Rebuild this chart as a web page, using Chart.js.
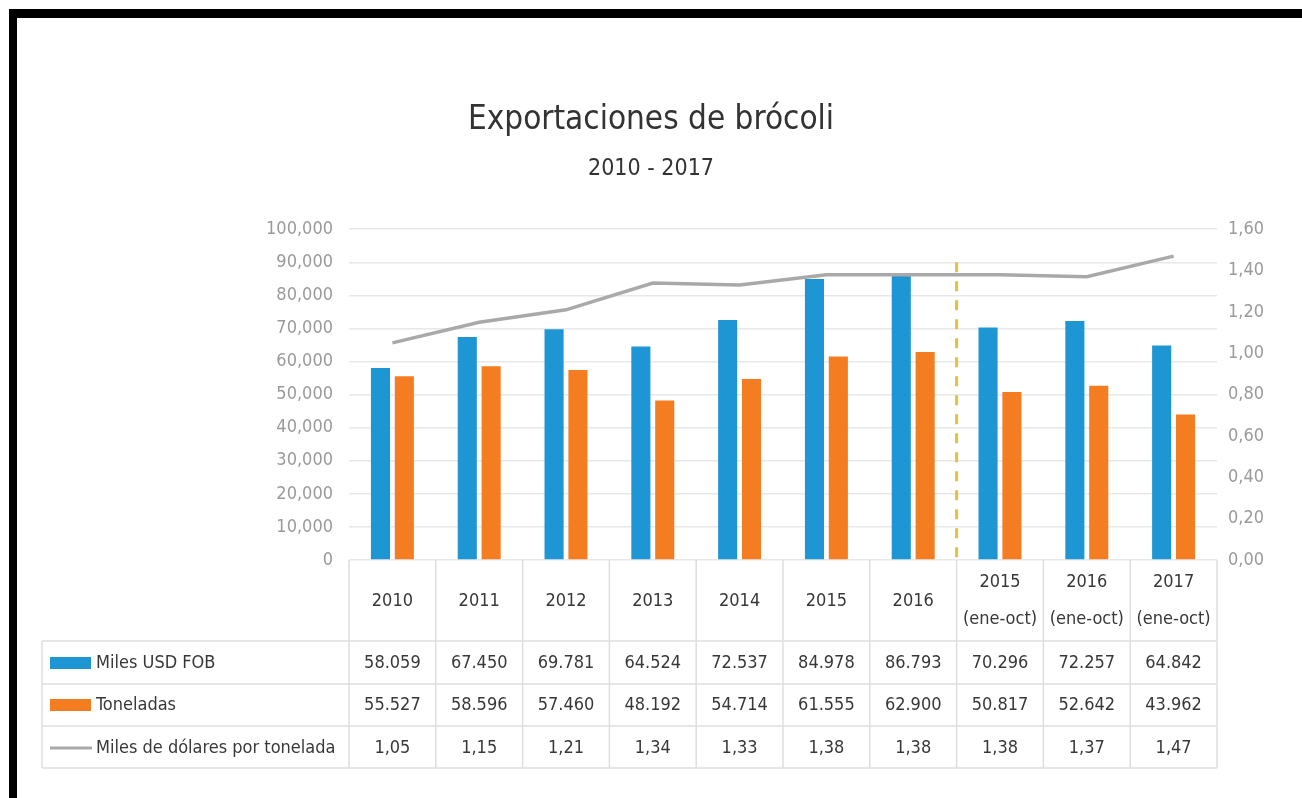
<!DOCTYPE html>
<html>
<head>
<meta charset="utf-8">
<script src="https://cdn.jsdelivr.net/npm/chart.js@4.4.1/dist/chart.umd.min.js"></script>
<style>
  html, body { margin: 0; padding: 0; background: #fff; }
  #wrap { position: relative; width: 1302px; height: 798px; overflow: hidden; }
  #topBar { position: absolute; left: 9px; top: 9px; width: 1293px; height: 9px; background: #000; }
  #leftBar { position: absolute; left: 9px; top: 9px; width: 8px; height: 789px; background: #000; }
  canvas { position: absolute; left: 0; top: 0; }
</style>
</head>
<body>
<div id="wrap">
  <canvas id="brocoliChart" width="1302" height="798"></canvas>
  <div id="topBar"></div>
  <div id="leftBar"></div>
</div>
<script>
const FONT = "'Liberation Sans Narrow', 'DejaVu Sans Condensed', 'Liberation Sans', sans-serif";

const categories = [
  ["2010"], ["2011"], ["2012"], ["2013"], ["2014"], ["2015"], ["2016"],
  ["2015", "(ene-oct)"], ["2016", "(ene-oct)"], ["2017", "(ene-oct)"]
];

const milesUsdFob = [58059, 67450, 69781, 64524, 72537, 84978, 86793, 70296, 72257, 64842];
const toneladas = [55527, 58596, 57460, 48192, 54714, 61555, 62900, 50817, 52642, 43962];
const milesPorTonelada = [1.05, 1.15, 1.21, 1.34, 1.33, 1.38, 1.38, 1.38, 1.37, 1.47];

const seriesNames = ["Miles USD FOB", "Toneladas", "Miles de dólares por tonelada"];
const leftMax = 100000;
const leftStep = 10000;
const rightMax = 1.6;
const rightStep = 0.2;
const splitAfterIndex = 6;

const blue = "#1e96d3";
const orange = "#f57d21";
const gray = "#a9a9a9";

function fmtThousands(v) {
  return String(v).replace(/\B(?=(\d{3})+(?!\d))/g, ".");
}
function fmtDecimal(v) {
  return v.toFixed(2).replace(".", ",");
}

// dashed separator between annual and ene-oct columns
const splitLinePlugin = {
  id: "splitLine",
  beforeDatasetsDraw(chart) {
    const x = chart.scales.x;
    const y = chart.scales.y;
    const px = (x.getPixelForValue(splitAfterIndex) + x.getPixelForValue(splitAfterIndex + 1)) / 2;
    const c = chart.ctx;
    c.save();
    c.strokeStyle = "#e4c13a";
    c.lineWidth = 3;
    c.setLineDash([10, 9]);
    c.beginPath();
    c.moveTo(px, y.getPixelForValue(90000));
    c.lineTo(px, y.getPixelForValue(0));
    c.stroke();
    c.restore();
  }
};

// excel-like data table under the plot
const dataTablePlugin = {
  id: "dataTable",
  afterDraw(chart) {
    const x = chart.scales.x;
    const area = chart.chartArea;
    const c = chart.ctx;
    const colW = (area.right - area.left) / categories.length;
    const tableLeft = 42;
    const rowLines = [641, 684, 726, 768];
    const headerMid = 601;
    const rowMids = [663, 705, 748];

    c.save();
    c.strokeStyle = "#dedede";
    c.lineWidth = 1.5;
    rowLines.forEach(ly => {
      c.beginPath();
      c.moveTo(tableLeft, ly);
      c.lineTo(area.right, ly);
      c.stroke();
    });
    for (let i = 0; i <= categories.length; i++) {
      const vx = area.left + i * colW;
      c.beginPath();
      c.moveTo(vx, area.bottom);
      c.lineTo(vx, rowLines[rowLines.length - 1]);
      c.stroke();
    }
    c.beginPath();
    c.moveTo(tableLeft, rowLines[0]);
    c.lineTo(tableLeft, rowLines[rowLines.length - 1]);
    c.stroke();

    c.fillStyle = "#383838";
    c.textAlign = "center";
    c.textBaseline = "middle";
    c.font = "18px " + FONT;
    categories.forEach((lab, i) => {
      const cx = x.getPixelForValue(i);
      if (lab.length === 1) {
        c.fillText(lab[0], cx, headerMid);
      } else {
        c.fillText(lab[0], cx, 582);
        c.fillText(lab[1], cx, 619);
      }
    });

    const rows = [
      milesUsdFob.map(fmtThousands),
      toneladas.map(fmtThousands),
      milesPorTonelada.map(fmtDecimal)
    ];
    rows.forEach((vals, r) => {
      vals.forEach((v, i) => c.fillText(v, x.getPixelForValue(i), rowMids[r]));
    });

    // legend keys
    c.textAlign = "left";
    c.fillStyle = blue;
    c.fillRect(50, rowMids[0] - 6, 41, 12);
    c.fillStyle = orange;
    c.fillRect(50, rowMids[1] - 6, 41, 12);
    c.strokeStyle = gray;
    c.lineWidth = 3;
    c.beginPath();
    c.moveTo(50, rowMids[2]);
    c.lineTo(92, rowMids[2]);
    c.stroke();
    c.fillStyle = "#383838";
    seriesNames.forEach((n, r) => c.fillText(n, 96, rowMids[r]));
    c.restore();
  }
};

const ctx = document.getElementById("brocoliChart");

const chart = new Chart(ctx, {
  type: "bar",
  data: {
    labels: categories,
    datasets: [
      {
        type: "line",
        label: seriesNames[2],
        data: milesPorTonelada,
        yAxisID: "y1",
        borderColor: gray,
        borderWidth: 3.5,
        pointRadius: 0,
        tension: 0,
        order: 0
      },
      {
        label: seriesNames[0],
        data: milesUsdFob,
        backgroundColor: blue,
        yAxisID: "y",
        categoryPercentage: 0.55,
        barPercentage: 0.8,
        order: 1
      },
      {
        label: seriesNames[1],
        data: toneladas,
        backgroundColor: orange,
        yAxisID: "y",
        categoryPercentage: 0.55,
        barPercentage: 0.8,
        order: 1
      }
    ]
  },
  options: {
    responsive: false,
    animation: false,
    layout: {
      padding: { top: 0, left: 0, right: 0, bottom: 238 }
    },
    plugins: {
      legend: { display: false },
      tooltip: { enabled: false },
      title: {
        display: true,
        text: "Exportaciones de brócoli",
        color: "#333333",
        font: { family: FONT, size: 33, weight: "normal" },
        padding: { top: 101, bottom: 6 }
      },
      subtitle: {
        display: true,
        text: "2010 - 2017",
        color: "#333333",
        font: { family: FONT, size: 23, weight: "normal" },
        padding: { top: 9, bottom: 46 }
      }
    },
    scales: {
      x: {
        display: false
      },
      y: {
        position: "left",
        min: 0,
        max: leftMax,
        border: { display: false },
        grid: { color: "#e8e8e8", lineWidth: 1.5, drawTicks: false },
        ticks: {
          stepSize: leftStep,
          padding: 16,
          color: "#9a9a9a",
          font: { family: FONT, size: 18 },
          callback: v => v === 0 ? "0" : String(v).replace(/\B(?=(\d{3})+(?!\d))/g, ",")
        },
        afterFit: s => { s.width = 349; }
      },
      y1: {
        position: "right",
        min: 0,
        max: rightMax,
        border: { display: false },
        grid: { display: false, drawTicks: false },
        ticks: {
          stepSize: rightStep,
          padding: 11,
          color: "#9a9a9a",
          font: { family: FONT, size: 18 },
          callback: v => fmtDecimal(v)
        },
        afterFit: s => { s.width = 85; }
      }
    }
  },
  plugins: [splitLinePlugin, dataTablePlugin]
});
</script>
</body>
</html>
